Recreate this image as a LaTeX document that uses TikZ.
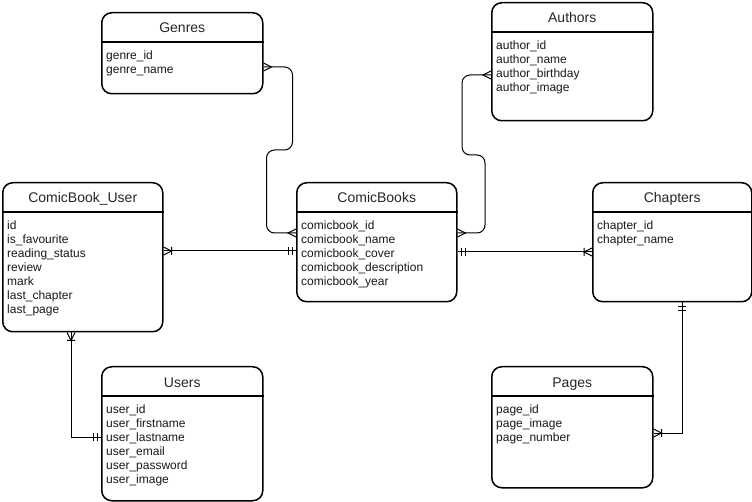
\documentclass[tikz,border=0pt]{standalone}
\usepackage{fontspec}
\setmainfont{Liberation Sans}

% Crow's-foot notation tips: toes at the entity border, pointing inwards along the edge
\pgfdeclarearrow{
  name = ER many,
  setup code = {
    \pgfarrowssettipend{0pt}
    \pgfarrowssetlineend{0pt}
    \pgfarrowssetbackend{-8pt}
    \pgfarrowshullpoint{0pt}{4pt}
    \pgfarrowshullpoint{0pt}{-4pt}
    \pgfarrowshullpoint{-8pt}{0pt}
  },
  drawing code = {
    \pgfsetdash{}{0pt}
    \pgfpathmoveto{\pgfqpoint{0pt}{4pt}}
    \pgfpathlineto{\pgfqpoint{-8pt}{0pt}}
    \pgfpathlineto{\pgfqpoint{0pt}{-4pt}}
    \pgfusepathqstroke
  }
}
\pgfdeclarearrow{
  name = ER onemany,
  setup code = {
    \pgfarrowssettipend{0pt}
    \pgfarrowssetlineend{0pt}
    \pgfarrowssetbackend{-8pt}
    \pgfarrowshullpoint{0pt}{4pt}
    \pgfarrowshullpoint{0pt}{-4pt}
    \pgfarrowshullpoint{-8pt}{4pt}
    \pgfarrowshullpoint{-8pt}{-4pt}
  },
  drawing code = {
    \pgfsetdash{}{0pt}
    \pgfpathmoveto{\pgfqpoint{0pt}{4pt}}
    \pgfpathlineto{\pgfqpoint{-8pt}{0pt}}
    \pgfpathlineto{\pgfqpoint{0pt}{-4pt}}
    \pgfpathmoveto{\pgfqpoint{-8pt}{4pt}}
    \pgfpathlineto{\pgfqpoint{-8pt}{-4pt}}
    \pgfusepathqstroke
  }
}
\pgfdeclarearrow{
  name = ER one,
  setup code = {
    \pgfarrowssettipend{0pt}
    \pgfarrowssetlineend{0pt}
    \pgfarrowssetbackend{-8pt}
    \pgfarrowshullpoint{-4pt}{4pt}
    \pgfarrowshullpoint{-4pt}{-4pt}
    \pgfarrowshullpoint{-8pt}{4pt}
    \pgfarrowshullpoint{-8pt}{-4pt}
  },
  drawing code = {
    \pgfsetdash{}{0pt}
    \pgfpathmoveto{\pgfqpoint{-4pt}{4pt}}
    \pgfpathlineto{\pgfqpoint{-4pt}{-4pt}}
    \pgfpathmoveto{\pgfqpoint{-8pt}{4pt}}
    \pgfpathlineto{\pgfqpoint{-8pt}{-4pt}}
    \pgfusepathqstroke
  }
}

\tikzset{
  entity/.style={draw, line width=1.5pt, rounded corners=10pt, anchor=north west,
    inner sep=0pt, fill=white},
  headline/.style={line width=1.5pt},
  entitytitle/.style={font=\fontsize{14}{16}\selectfont, inner sep=0pt, text=black!85},
  fieldlist/.style={font=\fontsize{12}{14}\selectfont, align=left, inner sep=0pt, text=black!90},
  conn/.style={line width=1pt},
}

% name, x, y, width, height, title, attributes
\newcommand{\erentity}[7]{%
  \node[entity, minimum width=#4pt, minimum height=#5pt] (#1) at (#2,#3) {};
  \draw[headline] ([yshift=-30pt]#1.north west) -- ([yshift=-30pt]#1.north east);
  \node[entitytitle, anchor=base] (#1-title) at ([yshift=-21pt]#1.north) {#6};
  \node[fieldlist, anchor=north west] (#1-fields) at ([xshift=5pt,yshift=-38.5pt]#1.north west) {#7};
}

\begin{document}
\begin{tikzpicture}[x=1pt, y=-1pt]
  \fill[white] (0,0) rectangle (752,502);
  \useasboundingbox (0,0) rectangle (752,502);

  \erentity{genres}{101}{12}{161}{81}{Genres}{genre\_id\\genre\_name}
  \erentity{authors}{491}{2}{161}{118}{Authors}{author\_id\\author\_name\\author\_birthday\\author\_image}
  \erentity{cbuser}{2}{182}{160}{149}{ComicBook\_User}{id\\is\_favourite\\reading\_status\\review\\mark\\last\_chapter\\last\_page}
  \erentity{comicbooks}{296}{182}{160}{119}{ComicBooks}{comicbook\_id\\comicbook\_name\\comicbook\_cover\\comicbook\_description\\comicbook\_year}
  \erentity{chapters}{592}{182}{159}{119}{Chapters}{chapter\_id\\chapter\_name}
  \erentity{users}{101}{366}{161}{134}{Users}{user\_id\\user\_firstname\\user\_lastname\\user\_email\\user\_password\\user\_image}
  \erentity{pages}{491}{366}{161}{121}{Pages}{page\_id\\page\_image\\page\_number}

  % relationships
  \draw[conn, rounded corners=8pt, ER many-ER many]
    ([yshift=-55pt]genres.north east) -- ++(29,0) -- ++(0,83) -- ++(-26,0)
    |- ([yshift=-51pt]comicbooks.north west);
  \draw[conn, rounded corners=8pt, ER many-ER many]
    ([yshift=-73pt]authors.north west) -- ++(-29,0) -- ++(0,80) -- ++(23,0)
    |- ([yshift=-51pt]comicbooks.north east);
  \draw[conn, ER onemany-ER one]
    ([yshift=-69pt]cbuser.north east) -- ([yshift=-69pt]comicbooks.north west);
  \draw[conn, ER one-ER onemany]
    ([yshift=-70pt]comicbooks.north east) -- ([yshift=-70pt]chapters.north west);
  \draw[conn, ER onemany-ER one]
    ([xshift=69pt]cbuser.south west) |- ([yshift=-71pt]users.north west);
  \draw[conn, ER one-ER onemany]
    ([xshift=90pt]chapters.south west) |- ([yshift=-67pt]pages.north east);
\end{tikzpicture}
\end{document}
